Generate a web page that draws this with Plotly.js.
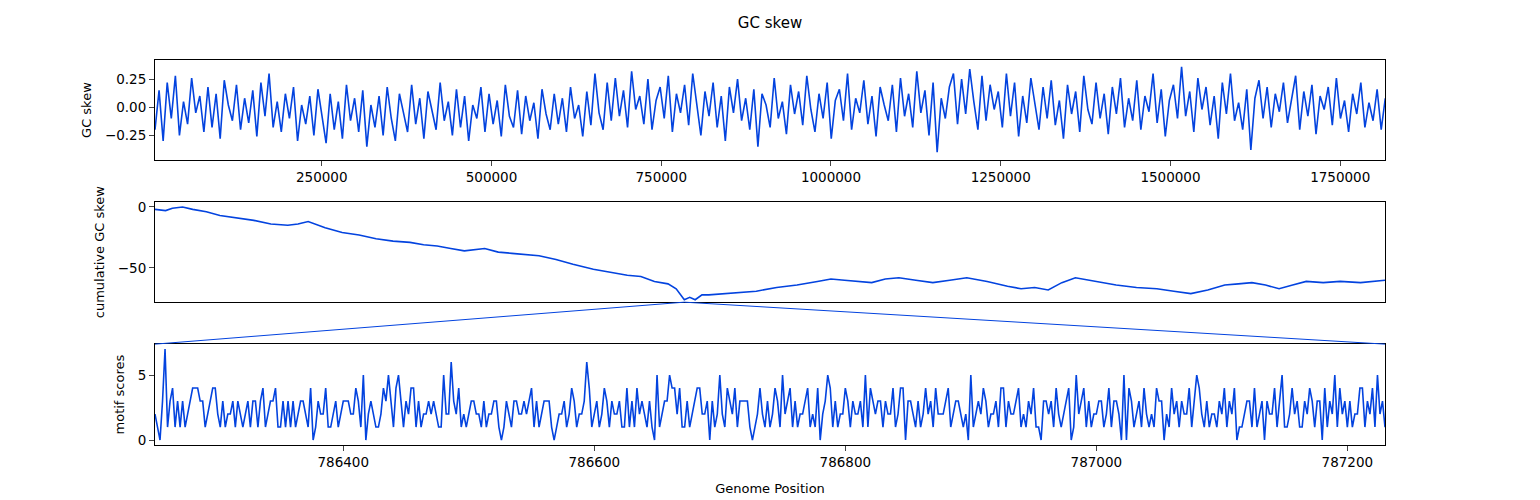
<!DOCTYPE html>
<html>
<head>
<meta charset="utf-8">
<script src="https://cdn.plot.ly/plotly-3.0.1.min.js"></script>
<style>body{margin:0;background:#fff}</style>
</head>
<body>
<div id="chart" style="width:1540px;height:500px"></div>
<script>
// sliding window GC skew, windows every 6000 bp from 4400
const skewStart = 4400, skewStep = 6000;
const gcSkew = [
 -0.20,0.15,-0.30,0.22,-0.10,0.28,-0.25,0.05,-0.15,0.26,-0.05,0.10,-0.22,0.18,-0.18,0.12,-0.28,0.24,0.02,-0.12,
 0.20,-0.20,0.08,-0.14,0.15,-0.26,0.22,-0.08,0.30,-0.18,0.05,-0.22,0.12,-0.10,0.18,-0.30,0.02,-0.15,0.10,-0.25,
 0.16,-0.06,-0.32,0.12,-0.20,0.05,-0.28,0.20,-0.12,0.08,-0.22,0.15,-0.35,0.02,-0.18,0.10,-0.25,0.18,-0.10,-0.30,
 0.12,-0.05,-0.22,0.20,-0.15,0.08,-0.28,0.14,-0.02,-0.20,0.22,-0.12,0.05,-0.25,0.16,-0.18,0.10,-0.30,0.02,-0.10,
 0.18,-0.22,0.12,-0.15,0.06,-0.26,0.20,-0.08,-0.18,0.15,-0.24,0.10,-0.12,0.04,-0.28,0.16,-0.06,-0.20,0.12,-0.15,
 0.08,-0.22,0.18,-0.10,0.02,-0.26,0.14,-0.16,0.30,-0.05,-0.20,0.22,-0.12,0.26,-0.08,0.15,-0.18,0.32,-0.02,0.10,
 -0.15,0.25,-0.20,0.06,0.18,-0.10,0.28,-0.22,0.12,-0.05,0.20,-0.16,0.30,0.02,-0.25,0.14,-0.08,0.22,-0.18,0.10,
 -0.30,0.18,-0.05,0.25,-0.12,0.08,-0.20,0.16,-0.35,0.12,0.02,-0.18,0.26,-0.10,0.05,-0.24,0.20,-0.06,0.14,-0.16,
 0.28,-0.02,-0.22,0.12,-0.10,0.22,-0.28,0.06,0.16,-0.12,0.30,-0.20,0.08,-0.05,0.24,-0.15,0.10,-0.26,0.18,0.02,
 -0.12,0.20,-0.22,0.26,-0.08,0.12,-0.18,0.32,-0.05,0.15,-0.25,0.22,-0.40,0.08,-0.10,0.18,0.30,-0.15,0.25,-0.06,
 0.34,0.05,-0.20,0.28,-0.12,0.20,-0.02,0.14,-0.18,0.30,-0.08,0.22,-0.26,0.10,-0.14,0.26,0.02,-0.20,0.18,-0.10,
 0.24,-0.16,0.06,-0.28,0.20,-0.06,0.14,-0.22,0.28,-0.02,-0.15,0.22,-0.10,0.12,-0.24,0.18,-0.06,0.26,-0.18,0.08,
 -0.12,0.24,-0.20,0.10,-0.04,0.30,-0.14,0.16,-0.26,0.06,0.20,-0.10,0.36,-0.08,0.14,-0.22,0.26,-0.02,0.18,-0.16,
 0.10,-0.28,0.22,-0.06,0.30,-0.12,0.04,-0.20,0.16,-0.38,0.08,0.24,-0.10,0.18,-0.18,0.12,-0.04,0.22,-0.14,0.06,
 0.28,-0.20,0.14,-0.08,0.20,-0.24,0.10,-0.02,0.18,-0.16,0.26,-0.10,0.06,-0.22,0.12,-0.06,0.22,-0.18,0.04,-0.12,
 0.16,-0.20,0.08,-0.14
];

const cumPos = [4400,20000,30000,45000,60000,80000,100000,125000,150000,175000,200000,215000,230000,255000,280000,
 305000,330000,355000,380000,400000,420000,440000,460000,490000,510000,530000,550000,570000,595000,620000,650000,
 680000,700000,720000,740000,760000,772000,784000,792000,800000,810000,820000,840000,860000,890000,920000,950000,
 980000,1000000,1020000,1040000,1060000,1080000,1100000,1125000,1150000,1175000,1200000,1230000,1260000,1280000,
 1300000,1320000,1340000,1360000,1380000,1400000,1420000,1450000,1480000,1505000,1530000,1555000,1580000,1600000,
 1620000,1640000,1660000,1680000,1700000,1725000,1750000,1780000,1816000];
const cumSkew = [-2,-3,-1,0,-2,-4,-7,-9,-11,-14,-15,-14,-12,-17,-21,-23,-26,-28,-29,-31,-32,-34,-36,-34,-37,-38,
 -39,-40,-43,-47,-51,-54,-56,-57,-61,-63,-67,-76,-74,-76,-72,-72,-71,-70,-69,-66,-64,-61,-59,-60,-61,-62,-59,-58,
 -60,-62,-60,-58,-61,-65,-67,-66,-68,-62,-58,-60,-62,-64,-66,-67,-69,-71,-68,-64,-63,-62,-64,-67,-64,-61,-62,
 -61,-62,-60];

// motif scores in the zoomed window, one value every 2 bp
const motifStart = 786250, motifStep = 2;
const motifDigits =
 "2103713413131234443312344213122313212313313412334113131312332140132241123123332243150232112435314531324413" +
 "1223232115226324121233221312233101321332232341312333101223124312236412312431322311413142321310512335442411" +
 "3123442230312521432413333101242131243152341312234121402354131224313223151432331322412440332131242314222341" +
 "2332120512324312231441322341213241103323142123401523413122331241332050431231421214330214231322413542131221" +
 "3241324011233141230322413511242311324313304132514231312244132415231253";
const motifScores = motifDigits.split("").map(Number);

const skewX = gcSkew.map((v, i) => skewStart + i * skewStep);
const motifX = motifScores.map((v, i) => motifStart + i * motifStep);
const blue = "#0343df";
const xMin = 4400, xMax = 1816000;
const mMin = 786250, mMax = 787230;
const zoomCentre = 784000;
const fx = (zoomCentre - xMin) / (xMax - xMin);

const data = [
  {x: skewX, y: gcSkew, type: "scatter", mode: "lines", line: {color: blue, width: 1.6}, xaxis: "x", yaxis: "y"},
  {x: cumPos, y: cumSkew, type: "scatter", mode: "lines", line: {color: blue, width: 1.6}, xaxis: "x2", yaxis: "y2"},
  {x: motifX, y: motifScores, type: "scatter", mode: "lines", line: {color: blue, width: 1.6}, xaxis: "x3", yaxis: "y3"}
];

const ax = {showline: true, mirror: true, linecolor: "#000", linewidth: 1, ticks: "outside", ticklen: 5,
  showgrid: false, zeroline: false, tickfont: {size: 13.5}};
const d1 = [0.740, 1], d2 = [0.371, 0.631], d3 = [0, 0.262];

const layout = {
  width: 1540, height: 500,
  margin: {l: 155, r: 155, t: 60, b: 55},
  paper_bgcolor: "#fff", plot_bgcolor: "#fff",
  font: {family: "DejaVu Sans", size: 13, color: "#000"},
  showlegend: false,
  title: {text: "GC skew", x: 0.5, y: 0.965, font: {size: 15}},
  xaxis: Object.assign({}, ax, {range: [xMin, xMax], tickvals: [250000,500000,750000,1000000,1250000,1500000,1750000],
    ticktext: ["250000","500000","750000","1000000","1250000","1500000","1750000"], anchor: "y"}),
  yaxis: Object.assign({}, ax, {domain: d1, range: [-0.47, 0.42], tickvals: [-0.25, 0, 0.25],
    ticktext: ["−0.25","0.00","0.25"], title: {text: "GC skew", standoff: 10, font: {size: 13}}}),
  xaxis2: Object.assign({}, ax, {range: [xMin, xMax], showticklabels: false, ticks: "", anchor: "y2"}),
  yaxis2: Object.assign({}, ax, {domain: d2, range: [-78, 4], tickvals: [-50, 0], ticktext: ["−50","0"],
    title: {text: "cumulative GC skew", standoff: 10, font: {size: 13}}}),
  xaxis3: Object.assign({}, ax, {range: [mMin, mMax], tickvals: [786400,786600,786800,787000,787200],
    ticktext: ["786400","786600","786800","787000","787200"], anchor: "y3",
    title: {text: "Genome Position", standoff: 14, font: {size: 13}}}),
  yaxis3: Object.assign({}, ax, {domain: d3, range: [-0.38, 7.38], tickvals: [0, 5],
    title: {text: "motif scores", standoff: 10, font: {size: 13}}}),
  shapes: [
    {type: "line", xref: "paper", yref: "paper", x0: fx, y0: d2[0], x1: 0, y1: d3[1], line: {color: blue, width: 1}},
    {type: "line", xref: "paper", yref: "paper", x0: fx, y0: d2[0], x1: 1, y1: d3[1], line: {color: blue, width: 1}}
  ]
};

Plotly.newPlot("chart", data, layout, {staticPlot: true});
</script>
</body>
</html>
